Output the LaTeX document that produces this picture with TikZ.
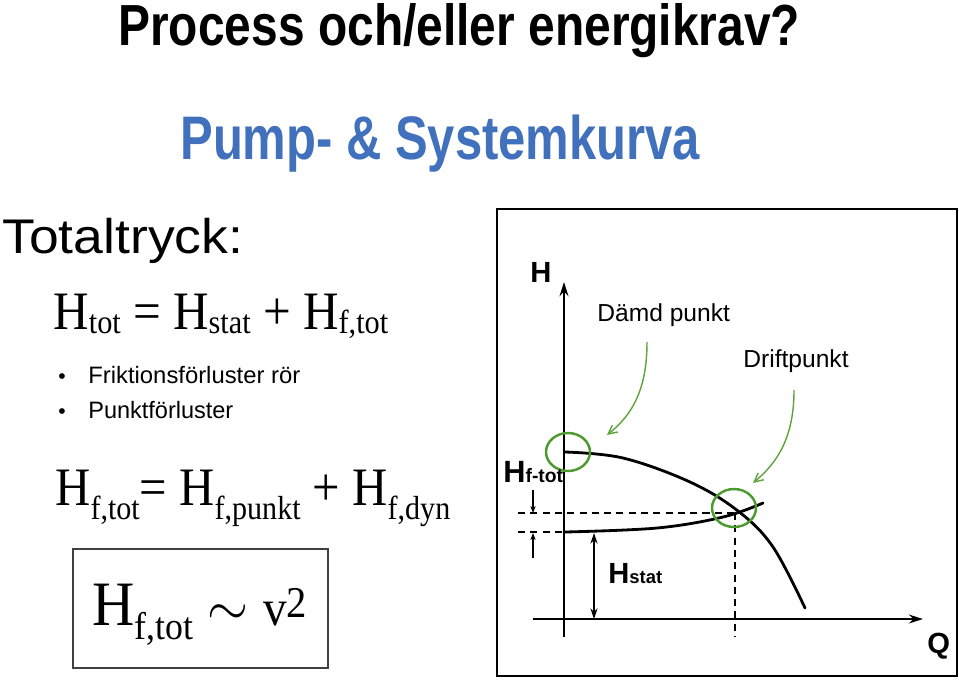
\documentclass[tikz,border=0pt]{standalone}
\usepackage{fontspec}
\setmainfont{Liberation Sans}
\newfontfamily\eqfont{Liberation Serif}
\usepackage{graphicx}
\usetikzlibrary{arrows.meta,shapes.geometric}
\definecolor{slideblue}{HTML}{4170BC}
\definecolor{ringgreen}{HTML}{4E9A2E}
\definecolor{arrowgreen}{HTML}{5FA33A}
\definecolor{boxgray}{HTML}{404040}
\newcommand{\fitw}[2]{\resizebox{#1}{\height}{#2}}
\newcommand{\eqsub}[2][2.8pt]{\raisebox{-#1}{\fontsize{19}{19}\selectfont #2}}
\tikzset{
  txt/.style={inner sep=0pt, anchor=base west},
  frame/.style={draw=black, line width=1.2pt},
  axis/.style={-{Stealth[length=8pt,width=5pt]}, line width=1.4pt},
  curve/.style={line width=1.6pt, line cap=round},
  guide/.style={line width=0.8pt, dash pattern=on 4pt off 3pt},
  ring/.style={ellipse, draw=ringgreen, line width=1.4pt,
    minimum width=0.88cm, minimum height=0.76cm, inner sep=0pt},
  pointer/.style={-{Straight Barb[length=5pt,width=5pt]}, draw=arrowgreen, line width=0.8pt},
  tickarrow/.style={-{Stealth[length=4pt,width=3pt]}, line width=0.6pt},
  eqbox/.style={rectangle, draw=boxgray, line width=0.9pt, inner sep=0pt},
}

\begin{document}
\begin{tikzpicture}[x=0.02cm, y=-0.02cm]
\useasboundingbox (0,0) rectangle (959,680);

% Headings
\node[txt] (title) at (118,45) {\fontsize{33}{33}\selectfont\fitw{13.64cm}{\bfseries Process och/eller energikrav?}};
\node[txt, text=slideblue] (subtitle) at (180,159) {\fontsize{35}{35}\selectfont\fitw{10.4cm}{\bfseries Pump- \& Systemkurva}};
\node[txt] (totaltryck) at (2,253) {\fontsize{27.7}{28}\selectfont\fitw{4.82cm}{Totaltryck:}};

% Equations and bullets
\node[txt] (eq-tot) at (53,329) {\eqfont\fontsize{30.8}{31}\selectfont\fitw{6.7cm}{H\eqsub{tot} = H\eqsub{stat} + H\eqsub{f,tot}}};
\node[txt] (bullet-a) at (58,383) {\fontsize{12}{12}\selectfont •};
\node[txt] (bullet-b) at (58,418) {\fontsize{12}{12}\selectfont •};
\node[txt] (friktion) at (88,383) {\fontsize{13.5}{14}\selectfont\fitw{4.24cm}{Friktionsförluster rör}};
\node[txt] (punkt) at (88,418) {\fontsize{13.5}{14}\selectfont\fitw{2.9cm}{Punktförluster}};
\node[txt] (eq-ftot) at (55,505) {\eqfont\fontsize{30.8}{31}\selectfont\fitw{7.9cm}{H\eqsub[8.5pt]{f,tot}= H\eqsub[8.5pt]{f,punkt} + H\eqsub[8.5pt]{f,dyn}}};

% Boxed relation
\node[eqbox, minimum width=5.1cm, minimum height=2.38cm] (vbox) at (200.5,608.5) {};
\node[txt] (eq-v) at (92,625) {\eqfont\fontsize{36}{36}\selectfont\fitw{4.3cm}{H\eqsub[8.5pt]{\fontsize{22}{22}\selectfont f,tot} \scalebox{1.3}{$\sim$} {\fontsize{29}{29}\selectfont v}\raisebox{4pt}{\fontsize{25}{25}\selectfont 2}}};

% Diagram frame and axes
\draw[frame] (497,209) rectangle (957,676);
\coordinate (ybot) at (564,637);
\coordinate (ytop) at (564,282);
\coordinate (xleft) at (533,619);
\coordinate (xright) at (923,619);
\draw[axis] (ybot) -- (ytop);
\draw[axis] (xleft) -- (xright);
\node[txt] (h-axis) at (530,282) {\fontsize{16.6}{17}\selectfont\bfseries H};
\node[txt] (q-axis) at (927,653) {\fontsize{16.6}{17}\selectfont\bfseries Q};

% Pump and system curves
\draw[curve] plot[smooth, tension=0.6] coordinates {(565,452) (623,458) (690,482) (738,511) (773,547) (805,608)};
\draw[curve] plot[smooth, tension=0.6] coordinates {(565,532) (657,528) (723,517) (763,503)};

% Guides
\coordinate (duty-pt) at (735,513);
\coordinate (hf-left) at (518,513);
\coordinate (hs-left) at (518,532);
\coordinate (hs-axis) at (564,532);
\coordinate (duty-q) at (735,637);
\draw[guide] (hf-left) -- (duty-pt);
\draw[guide] (duty-pt) -- (duty-q);
\draw[guide] (hs-left) -- (hs-axis);

% Marked points
\node[ring] (shutoff) at (568,452) {};
\node[ring] (duty) at (734,508) {};
\node[txt] (shutoff-lbl) at (597,321) {\fontsize{14}{14}\selectfont Dämd punkt};
\node[txt] (duty-lbl) at (743,367) {\fontsize{14}{14}\selectfont Driftpunkt};
\coordinate (shutoff-tail) at (647,342);
\coordinate (shutoff-head) at (607,435);
\coordinate (duty-tail) at (794,390);
\coordinate (duty-head) at (753,483);
\draw[pointer] (shutoff-tail) .. controls (647,390) and (632,415) .. (shutoff-head);
\draw[pointer] (duty-tail) .. controls (794,438) and (777,463) .. (duty-head);

% Head labels
\node[txt] (hftot) at (503,482) {\bfseries\fontsize{17.5}{18}\selectfont H\fontsize{11}{11}\selectfont f-tot};
\coordinate (hf-top) at (533,490);
\coordinate (hf-bot) at (533,558);
\coordinate (hf-mid1) at (533,513);
\coordinate (hf-mid2) at (533,533);
\draw[tickarrow] (hf-top) -- (hf-mid1);
\draw[tickarrow] (hf-bot) -- (hf-mid2);
\coordinate (hstat-top) at (594,533);
\coordinate (hstat-bot) at (594,619);
\draw[{Stealth[length=6pt,width=4pt]}-{Stealth[length=6pt,width=4pt]}, line width=1.1pt] (hstat-top) -- (hstat-bot);
\node[txt] (hstat) at (608,583) {\bfseries\fontsize{16.6}{17}\selectfont H\fontsize{10.5}{11}\selectfont stat};

\end{tikzpicture}
\end{document}
